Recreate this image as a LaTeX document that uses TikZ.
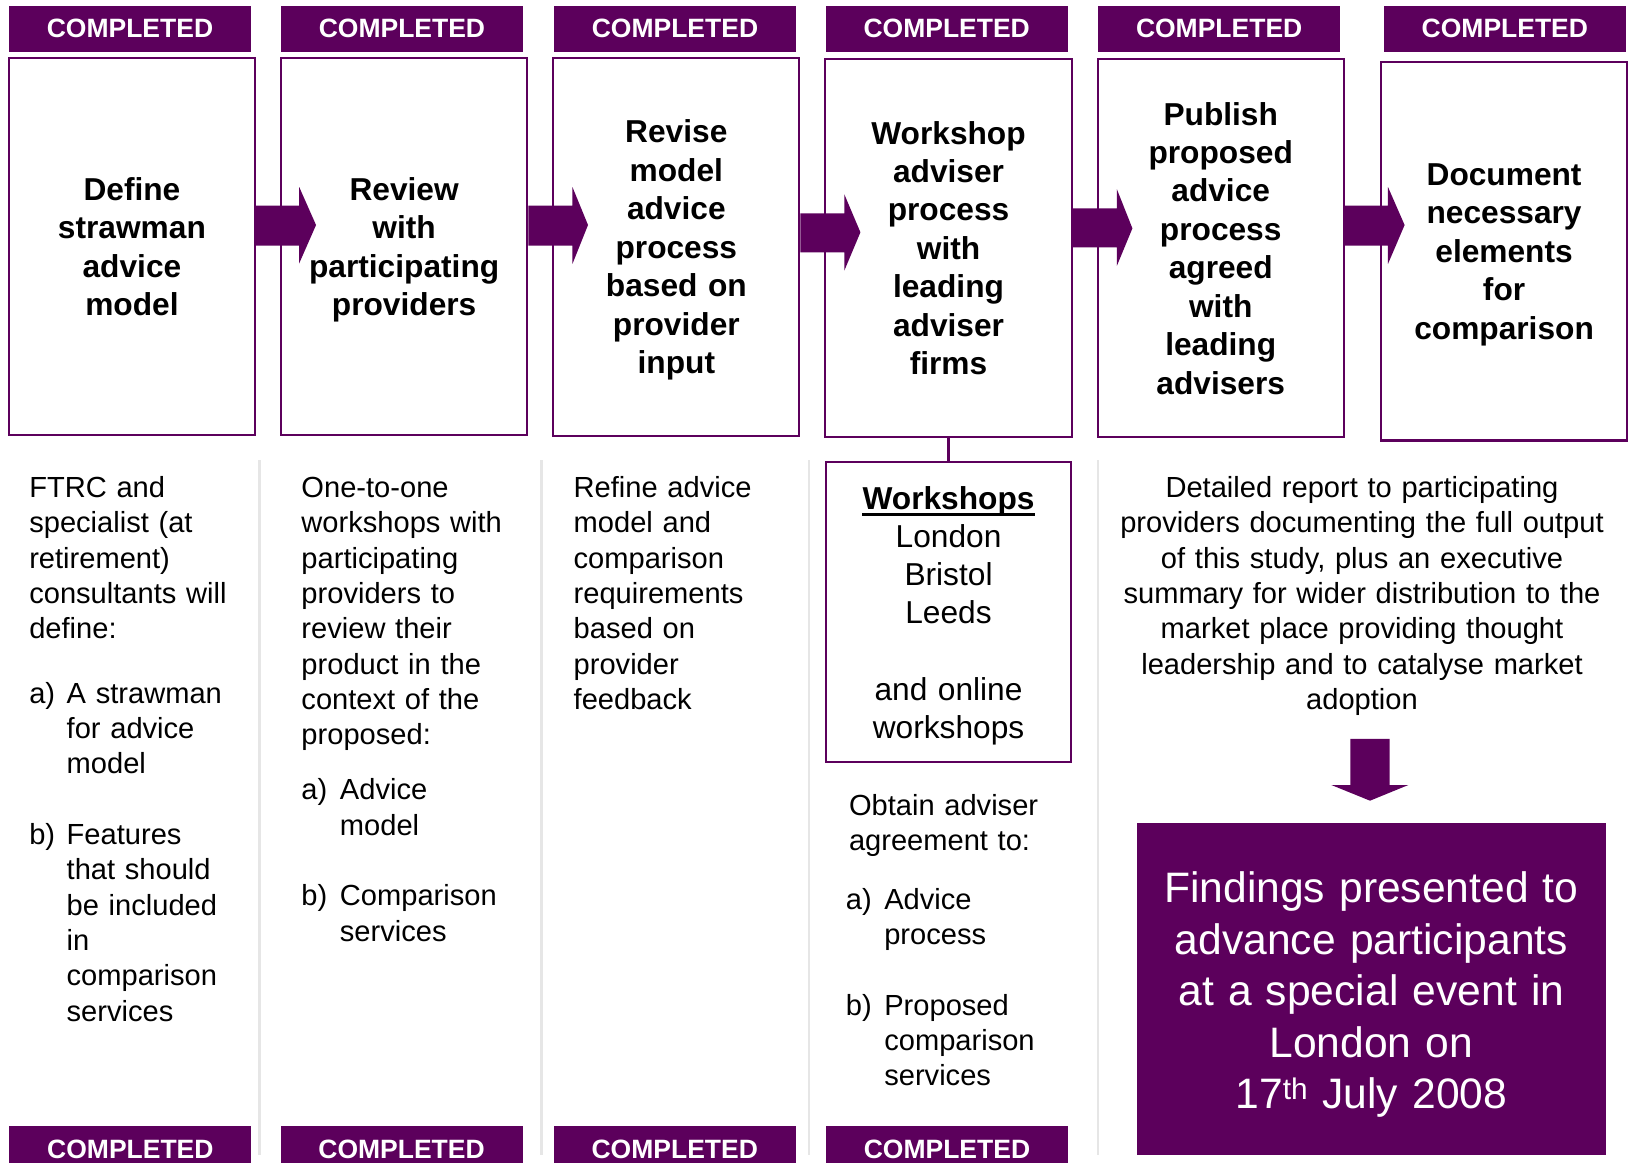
\documentclass[tikz,border=0pt]{standalone}
\usepackage{fontspec}
\setmainfont{Liberation Sans}
\usetikzlibrary{calc}
\definecolor{purp}{HTML}{5C005C}
\definecolor{sepgray}{HTML}{E6E6E6}
\begin{document}
\begin{tikzpicture}[x=1bp,y=-1bp,
  banner/.style={fill=purp, inner sep=0, minimum width=233bp, minimum height=44bp, text=white, font=\fontsize{25.5bp}{30bp}\selectfont\bfseries},
  stepbox/.style={draw=purp, line width=2bp, inner sep=0, align=center, text width=230bp, minimum width=237bp, minimum height=364bp, font=\fontsize{30.5bp}{37bp}\selectfont\bfseries},
  body/.style={inner sep=0, anchor=base west, align=left, font=\fontsize{28bp}{34bp}\selectfont},
  wstext/.style={inner sep=0, anchor=base, align=center, text width=220bp, font=\fontsize{30.5bp}{36.7bp}\selectfont},
  fat/.style={fill=purp},
  sepline/.style={draw=sepgray, line width=2.5bp},
]
\useasboundingbox (0,0) rectangle (1568,1119);
\clip (0,0) rectangle (1568,1119);
\fill[white] (0,0) rectangle (1568,1119);

% separators
\draw[sepline] (250,443) -- (250,1112);
\draw[sepline] (521.5,443) -- (521.5,1112);
\draw[sepline] (778.7,443) -- (778.7,1112);
\draw[sepline] (1057,443) -- (1057,1112);

% top banners
\node[banner] (t1) at (125.1,27.75) {COMPLETED};
\node[banner] (t2) at (386.9,27.75) {COMPLETED};
\node[banner] (t3) at (649.7,27.75) {COMPLETED};
\node[banner] (t4) at (911.25,27.75) {COMPLETED};
\node[banner] (t5) at (1173.5,27.75) {COMPLETED};
\node[banner] (t6) at (1448.5,27.75) {COMPLETED};

% bottom banners
\node[banner] (u1) at (125.5,1106) {COMPLETED};
\node[banner] (u2) at (386.5,1106) {COMPLETED};
\node[banner] (u3) at (649.5,1106) {COMPLETED};
\node[banner] (u4) at (911.5,1106) {COMPLETED};

% step boxes
\node[stepbox, minimum height=363.5bp] (b1) at (127,237.25) {Define\\strawman\\advice\\model};
\node[stepbox, minimum height=363.5bp] (b2) at (389,237.25) {Review\\with\\participating\\\smash{providers}};
\node[stepbox, minimum height=364bp] (b3) at (651,237.5) {Revise\\model\\advice\\process\\based on\\provider\\\smash{input}};
\node[stepbox, minimum height=363.5bp] (b4) at (913,238.75) {Workshop\\adviser\\process\\with\\leading\\adviser\\firms};
\node[stepbox, minimum height=364bp] (b5) at (1175,239) {Publish\\proposed\\advice\\process\\agreed\\with\\leading\\advisers};
\node[stepbox, minimum width=236.5bp, minimum height=364bp] (b6) at (1447.75,242) {Document\\necessary\\elements\\for\\\smash{comparison}};

% fat arrows between boxes
\fill[fat] (b1.east |- 0,198) -- (288,198) -- (288,180) -- (304.2,216.6) -- (288,253.5) -- (288,236.5) -- (b1.east |- 0,236.5) -- cycle;
\fill[fat] (b2.east |- 0,198) -- (551,198) -- (551,180) -- (566,216.6) -- (551,254) -- (551,236.5) -- (b2.east |- 0,236.5) -- cycle;
\fill[fat] (b3.east |- 0,205.3) -- (812.7,205.3) -- (812.7,187) -- (828.2,223.6) -- (812.7,260.5) -- (812.7,242.9) -- (b3.east |- 0,242.9) -- cycle;
\fill[fat] (b4.east |- 0,200.5) -- (1075,200.5) -- (1075,182) -- (1090,219.8) -- (1075,256) -- (1075,238) -- (b4.east |- 0,238) -- cycle;
\fill[fat] (b5.east |- 0,198) -- (1336,198) -- (1336,180) -- (1352,216.6) -- (1336,254) -- (1336,236.5) -- (b5.east |- 0,236.5) -- cycle;

% workshops box
\node[draw=purp, line width=2bp, inner sep=0, minimum width=236bp, minimum height=289.4bp] (ws) at (913,589.1) {};
\draw[draw=purp, line width=3bp] (b4.south) -- (ws.north);
\node[inner sep=0, anchor=base, font=\fontsize{30.5bp}{36.7bp}\selectfont\bfseries] (wsh) at (913,490) {Workshops};
\draw[line width=2.5bp] ($(wsh.base west)+(0,5.5)$) -- ($(wsh.base east)+(0,5.5)$);
\node[wstext] (wsc) at (913,527) {London\\Bristol\\Leeds};
\node[wstext] (wso) at (913,674) {and online\\workshops};

% column 1
\node[body, text width=220bp] (c1p) at (28,479) {FTRC and\\specialist (at\\retirement)\\consultants will\\define:};
\node[body] (c1a) at (28,677) {a)};
\node[body, text width=180bp] (c1at) at (64,677) {A strawman\\for advice\\model};
\node[body] (c1b) at (28,813) {b)};
\node[body, text width=180bp] (c1bt) at (64,813) {Features\\that should\\be included\\in\\comparison\\services};

% column 2
\node[body, text width=220bp] (c2p) at (290,479) {One-to-one\\workshops with\\participating\\providers to\\review their\\product in the\\context of the\\proposed:};
\node[body] (c2a) at (290,770) {a)};
\node[body, text width=180bp] (c2at) at (327,770) {Advice\\model};
\node[body] (c2b) at (290,872) {b)};
\node[body, text width=180bp] (c2bt) at (327,872) {Comparison\\services};

% column 3
\node[body, text width=220bp] (c3p) at (552,479) {Refine advice\\model and\\comparison\\requirements\\based on\\provider\\feedback};

% column 4
\node[body, text width=210bp] (c4p) at (817,785) {Obtain adviser\\agreement to:};
\node[body] (c4a) at (814,875) {a)};
\node[body, text width=170bp] (c4at) at (851,875) {Advice\\process};
\node[body] (c4b) at (814,977) {b)};
\node[body, text width=170bp] (c4bt) at (851,977) {Proposed\\comparison\\services};

% column 5
\node[body, anchor=base, align=center, text width=490bp] (c5p) at (1311,479) {Detailed report to participating\\providers documenting the full output\\of this study, plus an executive\\summary for wider distribution to the\\market place providing thought\\leadership and to catalyse market\\adoption};

% findings box
\node[fill=purp, inner sep=0, minimum width=451.5bp, minimum height=319.5bp] (fd) at (1320.25,952.25) {};
\node[inner sep=0, anchor=base, align=center, text width=440bp, text=white, font=\fontsize{41bp}{49.5bp}\selectfont] (fdt) at (1320,869) {Findings presented to\\advance participants\\at a special event in\\London on\\17\textsuperscript{th} July 2008};

% down arrow
\coordinate (dtop) at (1318.6,711.3);
\fill[fat] (1299.7,711.3) -- (1337.5,711.3) -- (1337.5,755.6) -- (1355.6,755.6) -- (1318.7,770.7) -- (1281.5,755.6) -- (1299.7,755.6) -- cycle;
\end{tikzpicture}
\end{document}
